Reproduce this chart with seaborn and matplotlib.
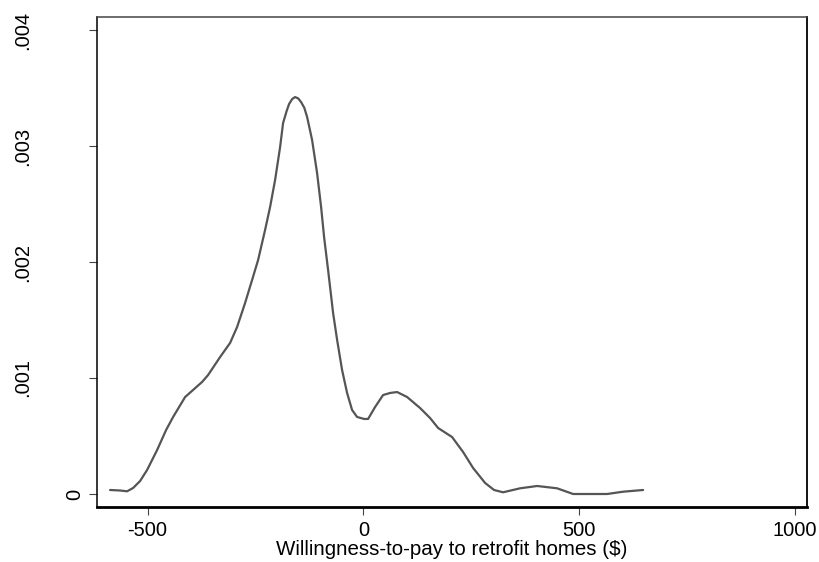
import numpy as np
import pandas as pd
import matplotlib
matplotlib.use("Agg")
import matplotlib.pyplot as plt
import matplotlib.transforms as mtransforms
import seaborn as sns

# curva de densidad
wtp = [-587, -564, -547.5, -533.6, -517.4, -501.2, -478, -457.1, -440.9, -413.1,
       -394.6, -373.7, -359.8, -332, -308.9, -292.6, -274.1, -257.9, -244, -227.8,
       -216.2, -204.6, -193, -186.1, -178, -172.2, -165, -158.3, -151, -144.4, -137, -130.4, -118.9, -107.3,
       -98, -91.1, -81.8, -70.2, -60.9, -49.4, -37.8, -26.2, -14.6, 1.6,
       10.9, 27.1, 45.6, 61.9, 78.1, 101.3, 131.4, 154.5, 173.1, 205.5,
       231, 254.2, 282, 302.8, 323.7, 363.1, 402.5, 448.8, 485.9, 525.3,
       564.7, 601.7, 648.1]
densidad = [0.0000345, 0.0000302, 0.0000233, 0.0000517, 0.000112, 0.000207, 0.000379, 0.000552, 0.000664, 0.000836,
            0.000897, 0.000966, 0.001026, 0.001181, 0.001302, 0.00144, 0.001647, 0.001845, 0.002017, 0.002276,
            0.002474, 0.002707, 0.002991, 0.003198, 0.003300, 0.003362, 0.003405, 0.003422, 0.003410, 0.003379, 0.003330, 0.003250, 0.003052, 0.002767,
            0.002474, 0.002216, 0.001931, 0.00156, 0.001328, 0.001069, 0.000871, 0.000724, 0.000664, 0.000647,
            0.000647, 0.00075, 0.000853, 0.000871, 0.000879, 0.000836, 0.000741, 0.000655, 0.000569, 0.000491,
            0.000362, 0.000224, 0.000095, 0.0000345, 0.0000147, 0.0000491, 0.000069, 0.0000491, 0.0, 0.0,
            0.0, 0.0000198, 0.0000345]

xticks = [-500, 0, 500, 1000]
xticklabels = ["-500", "0", "500", "1000"]
yticks = [0, 0.001, 0.002, 0.003, 0.004]
yticklabels = ["0", ".001", ".002", ".003", ".004"]

sns.set_style("white")
plt.rcParams['font.family'] = ['Liberation Sans', 'DejaVu Sans']
plt.rcParams['text.color'] = 'black'
plt.rcParams['axes.labelcolor'] = 'black'
plt.rcParams['xtick.color'] = 'black'
plt.rcParams['ytick.color'] = 'black'

df = pd.DataFrame({"wtp": wtp, "densidad": densidad})

fig = plt.figure(figsize=(8.2, 5.62), dpi=100)
ax = fig.add_axes([0.1179, 0.0984, 0.8666, 0.8705])

sns.lineplot(data=df, x="wtp", y="densidad", color="#555555", linewidth=1.6, ax=ax)

ax.set_xlim(-618, 1028.5)
ax.set_ylim(-0.0001095, 0.004108)

ax.set_xticks(xticks)
ax.set_xticklabels(xticklabels, fontsize=14.5)
ax.set_yticks(yticks)
ax.set_yticklabels(yticklabels, fontsize=14.5, rotation=90, ha="center", va="center")

ax.tick_params(axis="x", bottom=True, length=6, width=0.8, color="#444444", labelcolor="black", pad=4)
ax.tick_params(axis="y", left=True, length=6, width=0.8, color="#444444", labelcolor="black", pad=10)

# Stata pone las etiquetas largas mas a la izquierda
for lab in ax.get_yticklabels():
    if lab.get_text() != "0":
        lab.set_transform(lab.get_transform() +
                          mtransforms.ScaledTranslation(-0.52, 0, fig.dpi_scale_trans))

ax.set_xlabel("Willingness-to-pay to retrofit homes ($)", fontsize=14.8, labelpad=0.5)
ax.set_ylabel("")

for lado in ["left", "right", "top", "bottom"]:
    ax.spines[lado].set_visible(True)
    ax.spines[lado].set_color("black")
ax.spines["bottom"].set_linewidth(2)
ax.spines["right"].set_linewidth(1.3)
ax.spines["left"].set_linewidth(1.1)
ax.spines["top"].set_linewidth(1.1)
ax.spines["top"].set_color("#444444")

fig.savefig("out.png", dpi=100)
